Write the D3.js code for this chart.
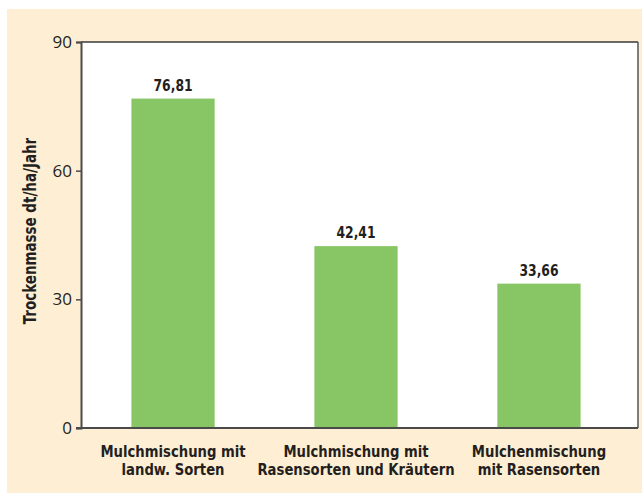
<!DOCTYPE html>
<html>
<head>
<meta charset="utf-8">
<script src="https://cdn.jsdelivr.net/npm/d3@7"></script>
<style>
  body { margin: 0; background: #fff; }
  text { fill: #231f20; }
  .cond { font-family: 'DejaVu Sans', sans-serif; font-stretch: condensed; font-weight: bold; }
</style>
</head>
<body>
<script>
// chart data
var categories = [
  ["Mulchmischung mit", "landw. Sorten"],
  ["Mulchmischung mit", "Rasensorten und Kräutern"],
  ["Mulchenmischung", "mit Rasensorten"]
];
var values = [76.81, 42.41, 33.66];
var valueLabels = ["76,81", "42,41", "33,66"];
var yTicks = [0, 30, 60, 90];

var w = 642, h = 497;
var mLeft = 81, mRight = 638, mTop = 42, mBottom = 428;

var svg = d3.select("body").append("svg")
  .attr("width", w)
  .attr("height", h);

// cream panel
svg.append("rect")
  .attr("x", 7).attr("y", 9)
  .attr("width", w - 7).attr("height", 484)
  .attr("fill", "#feeed3");

// white plot area
svg.append("rect")
  .attr("x", mLeft).attr("y", mTop)
  .attr("width", mRight - mLeft).attr("height", mBottom - mTop)
  .attr("fill", "#fff");

var x = d3.scaleBand()
  .domain(d3.range(categories.length))
  .range([mLeft + 1, 630])
  .paddingInner(0.545)
  .paddingOuter(0.27);

var y = d3.scaleLinear()
  .domain([0, 90])
  .range([mBottom, mTop]);

// bars
svg.selectAll("rect.bar")
  .data(values)
  .enter()
  .append("rect")
  .attr("class", "bar")
  .attr("x", function(d, i) { return x(i); })
  .attr("y", function(d) { return y(d); })
  .attr("width", x.bandwidth())
  .attr("height", function(d) { return y(0) - y(d); })
  .attr("fill", "#88c665");

// value labels (narrowed a bit to look like a condensed face)
svg.selectAll("text.val")
  .data(values)
  .enter()
  .append("text")
  .attr("class", "val cond")
  .attr("transform", function(d, i) {
    return "translate(" + (x(i) + x.bandwidth() / 2) + "," + (y(d) - 8) + ") scale(0.86,1)";
  })
  .attr("text-anchor", "middle")
  .style("font-size", "16px")
  .text(function(d, i) { return valueLabels[i]; });

// top / right frame
svg.append("line")
  .attr("x1", mLeft).attr("x2", mRight)
  .attr("y1", mTop).attr("y2", mTop)
  .attr("stroke", "#3a3a3a").attr("stroke-width", 1.5);
svg.append("line")
  .attr("x1", mRight).attr("x2", mRight)
  .attr("y1", mTop).attr("y2", mBottom)
  .attr("stroke", "#555").attr("stroke-width", 1.5);

// y axis
var yAxis = svg.append("g")
  .attr("transform", "translate(" + mLeft + ",0)")
  .call(d3.axisLeft(y).tickValues(yTicks).tickSize(5).tickPadding(4));
yAxis.select(".domain").attr("stroke", "#4a4a4a").attr("stroke-width", 2);
yAxis.selectAll(".tick line").attr("stroke", "#4a4a4a").attr("stroke-width", 1.5);
yAxis.selectAll(".tick text")
  .style("font-family", "'Open Sans', sans-serif")
  .style("font-size", "17px")
  .attr("fill", "#231f20");

// x axis baseline
svg.append("line")
  .attr("x1", mLeft - 5).attr("x2", mRight)
  .attr("y1", mBottom).attr("y2", mBottom)
  .attr("stroke", "#4a4a4a").attr("stroke-width", 2);

// category labels, one text per line
categories.forEach(function(lines, i) {
  svg.selectAll("text.cat" + i)
    .data(lines)
    .enter()
    .append("text")
    .attr("class", "cat" + i + " cond")
    .attr("transform", function(d, j) {
      return "translate(" + (x(i) + x.bandwidth() / 2) + "," + (457 + j * 18) + ") scale(0.89,1)";
    })
    .attr("text-anchor", "middle")
    .style("font-size", "16.5px")
    .text(function(d) { return d; });
});

// y axis title
svg.append("text")
  .attr("class", "cond")
  .attr("transform", "translate(36,231) rotate(-90) scale(0.88,1)")
  .attr("text-anchor", "middle")
  .style("font-size", "17px")
  .text("Trockenmasse dt/ha/Jahr");
</script>
</body>
</html>
